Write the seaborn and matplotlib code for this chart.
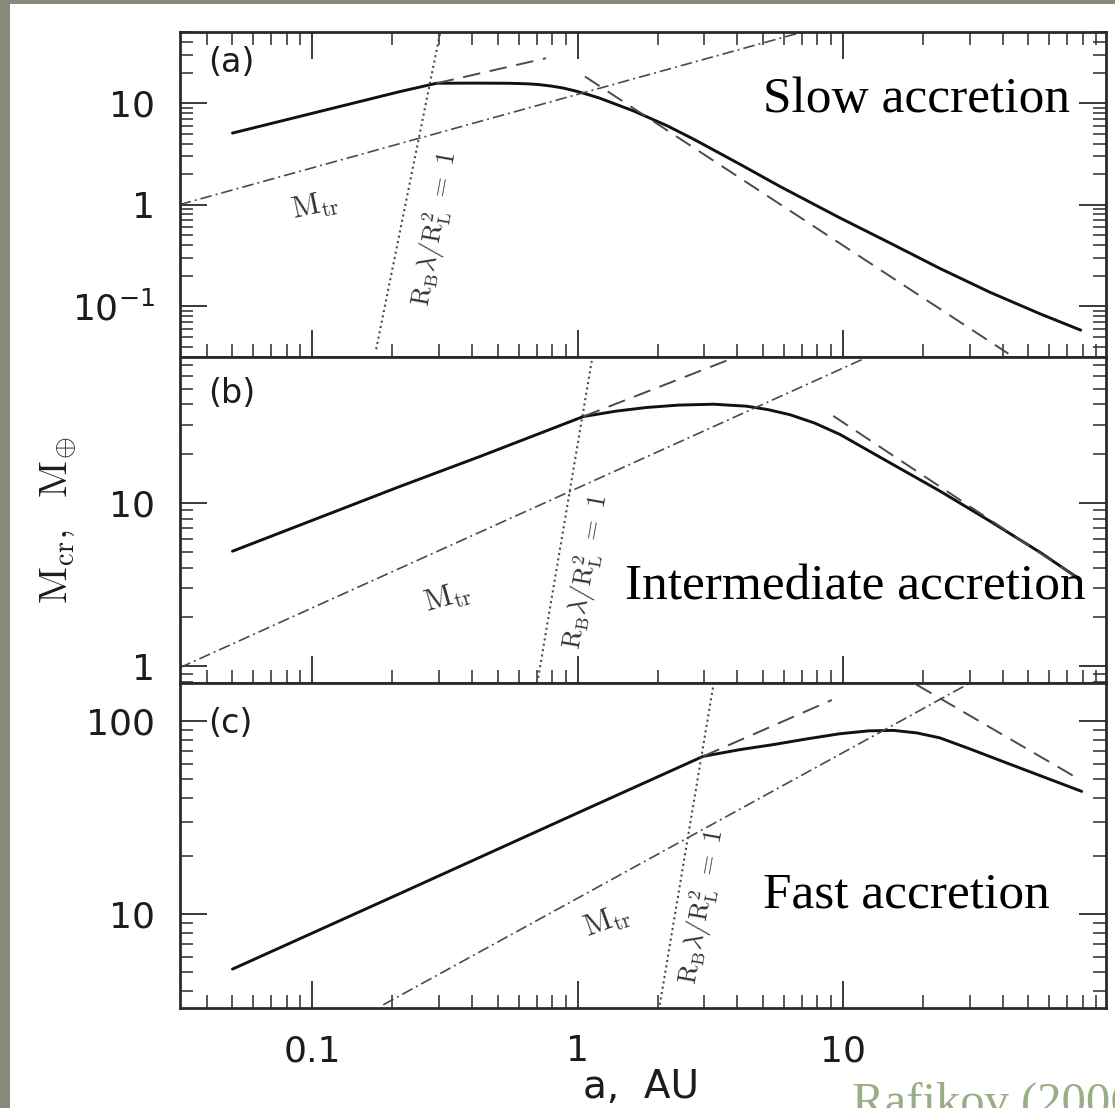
import numpy as np
import pandas as pd
import matplotlib
matplotlib.use("Agg")
import matplotlib.pyplot as plt
from matplotlib.patches import Rectangle
from matplotlib.ticker import FixedLocator, FixedFormatter, LogLocator, NullFormatter
import seaborn as sns

# ---------------------------------------------------------------
# Critical core mass M_cr (Earth masses) vs. semi-major axis a (AU)
# ---------------------------------------------------------------
a_slow = [0.05, 0.214, 0.294, 0.40, 0.55, 0.65, 0.72, 0.80, 0.88, 0.99, 1.10, 1.21,
          1.62, 2.17, 2.72, 4.09, 5.79, 9.74, 15.0, 23.2, 35.8, 55.3, 78.7]
m_slow = [5.07, 13.0, 15.7, 15.75, 15.7, 15.5, 15.2, 14.7, 14.1, 13.1, 12.1, 11.2,
          8.4, 6.0, 4.45, 2.50, 1.51, 0.74, 0.42, 0.235, 0.137, 0.084, 0.058]

a_mid = [0.05, 0.214, 0.428, 1.05, 1.40, 1.82, 2.40, 3.25, 4.33, 5.20, 6.31, 7.80,
         9.74, 15.0, 23.2, 35.8, 55.3, 78.2]
m_mid = [5.06, 12.6, 19.2, 33.7, 36.4, 38.3, 39.6, 40.1, 39.0, 37.2, 34.6, 30.8,
         26.2, 17.6, 11.8, 7.73, 4.98, 3.4]

a_fast = [0.05, 0.214, 1.02, 2.97, 4.09, 5.46, 7.30, 9.74, 12.5, 15.5, 19.0, 23.2,
          30.0, 41.4, 79.4]
m_fast = [5.19, 12.8, 33.9, 65.8, 71.3, 75.7, 81.0, 86.2, 89.2, 89.7, 87.0, 82.0,
          72.0, 60.8, 43.3]

# Asymptotic power laws (dashed): inner and outer branches
a_asym_in = {"a": [0.294, 0.76], "b": [1.05, 3.75], "c": [2.97, 9.08]}
m_asym_in = {"a": [15.7, 27.7], "b": [33.7, 75.5], "c": [65.8, 129.0]}
a_asym_out = {"a": [1.065, 42.0], "b": [9.19, 78.2], "c": [18.9, 78.2]}
m_asym_out = {"a": [18.3, 0.034], "b": [34.0, 3.4], "c": [155.0, 49.8]}

# Transition mass M_tr (dash-dot)
a_tr = {"a": [0.0316, 7.0], "b": [0.0316, 12.3], "c": [0.185, 30.1]}
m_tr = {"a": [1.0, 50.0], "b": [0.98, 77.6], "c": [3.39, 158.0]}

# R_B * lambda / R_L^2 = 1 boundary (dotted)
a_rb = {"a": [0.174, 0.303], "b": [0.71, 1.13], "c": [2.04, 3.25]}
m_rb = {"a": [0.0376, 49.0], "b": [0.85, 73.8], "c": [3.39, 155.0]}

panels = ["a", "b", "c"]
solid_a = {"a": a_slow, "b": a_mid, "c": a_fast}
solid_m = {"a": m_slow, "b": m_mid, "c": m_fast}
titles = {"a": "Slow accretion", "b": "Intermediate accretion", "c": "Fast accretion"}

y_limits = {"a": (0.0313, 50.2), "b": (0.795, 77.6), "c": (3.265, 158.6)}
y_ticks = {"a": [0.1, 1, 10], "b": [1, 10], "c": [10, 100]}
y_labels = {"a": [r"$\mathregular{10^{-1}}$", "1", "10"], "b": ["1", "10"], "c": ["10", "100"]}
x_ticks = [0.1, 1, 10]
x_labels = ["0.1", "1", "10"]

# Annotation anchors (data coordinates)
mtr_pos = {"a": (0.102, 0.955, 12), "b": (0.323, 2.62, 16), "c": (1.295, 9.12, 20)}
rb_pos = {"a": (0.290, 0.568), "b": (1.075, 3.75), "c": (2.94, 10.9)}
panel_tag_y = {"a": 0.906, "b": 0.889, "c": 0.874}
title_pos = {"a": (0.630, 0.755), "b": (0.481, 0.255), "c": (0.630, 0.308)}

# ---------------------------------------------------------------
sns.set_theme(style="ticks")
plt.rcParams["font.family"] = ["DejaVu Sans"]
plt.rcParams["axes.linewidth"] = 2.0

BG = "#868a78"
INK = "#1c1c1c"
GREY = "#4a4a4a"

fig = plt.figure(figsize=(11.15, 11.08), dpi=100, facecolor=BG)
fig.add_artist(Rectangle((10 / 1115, 0), 1.0, 1 - 4 / 1108, transform=fig.transFigure,
                         facecolor="white", edgecolor="none", zorder=-5))

gs = fig.add_gridspec(3, 1, left=0.1614, right=0.9915, top=0.9711, bottom=0.0903, hspace=0)
axes = []
for i, key in enumerate(panels):
    ax = fig.add_subplot(gs[i], sharex=axes[0] if axes else None)
    axes.append(ax)
    ax.set_xscale("log")
    ax.set_yscale("log")
    ax.set_facecolor("white")

    sns.lineplot(x=solid_a[key], y=solid_m[key], ax=ax, color="#111111", lw=2.1,
                 estimator=None, sort=False)
    sns.lineplot(x=a_asym_in[key], y=m_asym_in[key], ax=ax, color=GREY, lw=1.4,
                 linestyle=(0, (9, 5)), estimator=None, sort=False)
    sns.lineplot(x=a_asym_out[key], y=m_asym_out[key], ax=ax, color=GREY, lw=1.4,
                 linestyle=(0, (9, 5)), estimator=None, sort=False)
    sns.lineplot(x=a_tr[key], y=m_tr[key], ax=ax, color=GREY, lw=1.2,
                 linestyle=(0, (7, 2.4, 1.2, 2.4)), estimator=None, sort=False)
    sns.lineplot(x=a_rb[key], y=m_rb[key], ax=ax, color=GREY, lw=1.5,
                 linestyle=(0, (1, 1.6)), estimator=None, sort=False)

    ax.set_xlim(0.0317, 97.6)
    ax.set_ylim(*y_limits[key])

    ax.yaxis.set_major_locator(FixedLocator(y_ticks[key]))
    ax.yaxis.set_major_formatter(FixedFormatter(y_labels[key]))
    ax.yaxis.set_minor_locator(LogLocator(base=10, subs=np.arange(2, 10), numticks=100))
    ax.yaxis.set_minor_formatter(NullFormatter())

    ax.tick_params(which="both", direction="in", left=True, right=True,
                   top=(key == "a"), bottom=True, colors="#2a2a2a")
    ax.tick_params(which="major", length=19.5, width=1.3)
    ax.tick_params(which="minor", length=9.7, width=1.1)
    ax.tick_params(axis="y", which="major", pad=18, labelsize=26, labelcolor=INK)
    ax.tick_params(axis="x", which="major", pad=19, labelsize=26, labelcolor=INK,
                   labelbottom=(key == "c"))
    for sp in ax.spines.values():
        sp.set_linewidth(2.0)
        sp.set_color("#2a2a2a")
    ax.set_xlabel("")
    ax.set_ylabel("")

    ax.text(0.030, panel_tag_y[key], f"({key})", transform=ax.transAxes,
            ha="left", va="center", fontsize=24, color=INK)
    mx, my, mrot = mtr_pos[key]
    ax.text(mx, my, r"$\mathrm{M_{tr}}$", math_fontfamily="cm", fontsize=22,
            rotation=mrot, ha="center", va="center", rotation_mode="anchor", color="#333333")
    rx, ry = rb_pos[key]
    ax.text(rx, ry, r"$\mathrm{R_B}\lambda/\mathrm{R_L^2}\ =\ 1$", math_fontfamily="cm",
            fontsize=19, rotation=80, ha="center", va="center", rotation_mode="anchor",
            color="#333333")
    tx, ty = title_pos[key]
    ax.text(tx, ty, titles[key], transform=ax.transAxes, ha="left", va="baseline",
            fontsize=37, family="Liberation Serif", color="black")

axes[0].xaxis.set_major_locator(FixedLocator(x_ticks))
axes[0].xaxis.set_major_formatter(FixedFormatter(x_labels))
axes[0].xaxis.set_minor_locator(LogLocator(base=10, subs=np.arange(2, 10), numticks=100))
axes[0].xaxis.set_minor_formatter(NullFormatter())

fig.text(0.051, 0.5307, r"$\mathrm{M_{cr},\ \ M_{\oplus}}$", rotation=90, ha="center",
         va="center", fontsize=29, math_fontfamily="cm", color=INK)
fig.text(0.575, 0.009, "a,  AU", ha="center", va="baseline", fontsize=28, color=INK)
fig.text(0.764, -0.0072, "Rafikov (2006)", ha="left", va="baseline", fontsize=35,
         family="Liberation Serif", color="#9aae86")

fig.savefig("out.png", dpi=100, facecolor=BG)
